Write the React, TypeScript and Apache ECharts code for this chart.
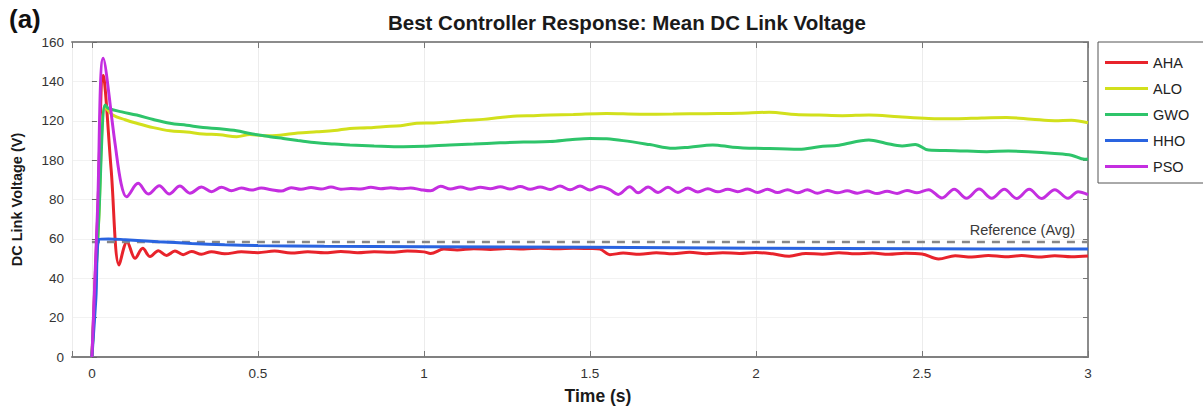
import React, { useEffect, useRef } from "react";
import * as echarts from "echarts";

const SERIES_NAMES = ["AHA", "ALO", "GWO", "HHO", "PSO"];
const SERIES_COLORS = ["#e8232b", "#d2e01c", "#2ec46a", "#2a64e0", "#c42ee0"];
const Y_TICK_LABELS = ["0", "20", "40", "60", "80", "180", "120", "140", "160"];
const X_TICKS = [0, 0.5, 1, 1.5, 2, 2.5, 3];
const REFERENCE_AVG = 58.7;
const REFERENCE_SPAN = [0, 3];

const AHA_T = [0, 0.017, 0.034, 0.058, 0.082, 0.106, 0.13, 0.153, 0.175, 0.2, 0.225, 0.25, 0.275, 0.3, 0.33, 0.36, 0.4, 0.45, 0.5, 0.55, 0.6, 0.65, 0.7, 0.75, 0.8, 0.85, 0.9, 0.95, 1.0, 1.02, 1.06, 1.1, 1.15, 1.2, 1.25, 1.3, 1.35, 1.4, 1.45, 1.5, 1.53, 1.56, 1.6, 1.65, 1.7, 1.75, 1.8, 1.85, 1.9, 1.95, 2.0, 2.05, 2.1, 2.15, 2.2, 2.25, 2.3, 2.35, 2.4, 2.45, 2.5, 2.55, 2.6, 2.65, 2.7, 2.75, 2.8, 2.85, 2.9, 2.95, 3.0];
const AHA_V = [0, 70, 143, 95, 46.7, 58.6, 50.1, 55.2, 51.0, 54.0, 51.6, 53.8, 52.0, 53.6, 52.2, 53.5, 52.4, 53.4, 53.0, 53.8, 52.8, 53.4, 52.9, 53.6, 53.0, 53.5, 53.2, 53.8, 53.4, 52.6, 54.8, 54.4, 55.0, 54.6, 55.1, 54.8, 55.3, 55.0, 55.3, 55.1, 54.8, 52.0, 52.8, 52.2, 53.0, 52.4, 53.2, 52.5, 53.0, 52.6, 53.1, 52.4, 51.2, 52.6, 52.2, 53.0, 52.4, 52.8, 52.2, 52.7, 52.3, 49.8, 51.4, 50.8, 51.6, 50.9, 51.5, 50.8, 51.4, 50.9, 51.3];

const ALO_T = [0, 0.02, 0.04, 0.063, 0.1, 0.135, 0.185, 0.235, 0.285, 0.335, 0.385, 0.436, 0.476, 0.52, 0.566, 0.62, 0.677, 0.73, 0.777, 0.83, 0.877, 0.93, 0.978, 1.03, 1.078, 1.13, 1.178, 1.23, 1.28, 1.33, 1.38, 1.45, 1.55, 1.65, 1.75, 1.85, 1.95, 2.04, 2.12, 2.19, 2.26, 2.34, 2.43, 2.52, 2.6, 2.68, 2.755, 2.83, 2.9, 2.95, 3.0];
const ALO_V = [0, 68, 127, 122.9, 120.5, 118.7, 116.5, 114.9, 114.3, 113.3, 112.9, 111.9, 113.0, 112.4, 112.7, 113.8, 114.4, 115.0, 116.1, 116.4, 117.0, 117.5, 118.7, 118.9, 119.5, 120.2, 120.7, 121.6, 122.4, 122.6, 122.9, 123.2, 123.7, 123.3, 123.4, 123.6, 123.8, 124.3, 123.2, 122.9, 122.6, 122.9, 122.0, 121.2, 121.0, 121.4, 121.6, 120.8, 120.0, 120.3, 119.0];

const GWO_T = [0, 0.02, 0.04, 0.05, 0.09, 0.135, 0.185, 0.235, 0.285, 0.335, 0.385, 0.436, 0.476, 0.536, 0.576, 0.62, 0.677, 0.73, 0.777, 0.85, 0.938, 1.0, 1.078, 1.15, 1.229, 1.3, 1.38, 1.44, 1.5, 1.55, 1.6, 1.68, 1.75, 1.8, 1.87, 1.93, 2.0, 2.07, 2.13, 2.19, 2.25, 2.34, 2.39, 2.44, 2.48, 2.52, 2.6, 2.695, 2.76, 2.82, 2.9, 2.95, 2.99, 3.0];
const GWO_V = [0, 68, 128, 126.3, 124.5, 122.9, 120.6, 118.7, 117.7, 116.6, 115.9, 114.9, 113.5, 111.9, 111.0, 110.0, 108.8, 108.2, 107.7, 107.2, 106.8, 107.0, 107.7, 108.2, 108.8, 109.2, 109.4, 110.3, 111.0, 110.8, 109.9, 107.9, 106.0, 106.6, 107.7, 106.6, 106.0, 105.8, 105.5, 106.8, 107.6, 110.2, 108.6, 107.2, 108.0, 105.1, 104.8, 104.3, 104.6, 104.3, 103.4, 102.5, 100.4, 100.6];

const HHO_T = [0, 0.012, 0.022, 0.05, 0.1, 0.2, 0.3, 0.4, 0.5, 0.7, 1.0, 1.5, 2.0, 2.5, 3.0];
const HHO_V = [0, 30, 59.8, 60.0, 59.6, 58.6, 57.7, 57.0, 56.6, 56.2, 56.0, 55.7, 55.3, 55.0, 54.8];

const PSO_T = [0, 0.017, 0.034, 0.07, 0.088, 0.104, 0.139, 0.17, 0.203, 0.233, 0.265, 0.295, 0.33, 0.36, 0.39, 0.42, 0.45, 0.48, 0.51, 0.54, 0.57, 0.6, 0.63, 0.66, 0.69, 0.72, 0.75, 0.78, 0.81, 0.84, 0.87, 0.9, 0.93, 0.96, 0.99, 1.02, 1.05, 1.08, 1.11, 1.14, 1.17, 1.2, 1.23, 1.26, 1.29, 1.32, 1.35, 1.38, 1.41, 1.44, 1.47, 1.5, 1.53, 1.56, 1.585, 1.62, 1.645, 1.675, 1.705, 1.735, 1.765, 1.795, 1.825, 1.855, 1.885, 1.915, 1.945, 1.975, 2.005, 2.035, 2.065, 2.095, 2.125, 2.155, 2.185, 2.215, 2.245, 2.275, 2.305, 2.335, 2.365, 2.395, 2.425, 2.455, 2.485, 2.52, 2.56, 2.597, 2.634, 2.672, 2.71, 2.748, 2.785, 2.823, 2.86, 2.9, 2.94, 2.97, 3.0];
const PSO_V = [0, 75, 151.7, 108, 88, 81.4, 88.2, 82.8, 87.0, 82.8, 86.8, 83.2, 86.3, 84.0, 86.2, 84.5, 85.9, 84.8, 85.8, 85.0, 84.3, 86.0, 85.2, 86.1, 85.3, 86.3, 85.2, 85.6, 85.3, 86.2, 85.5, 86.0, 85.4, 85.9, 85.0, 84.4, 86.7, 85.3, 86.4, 85.2, 86.2, 85.4, 86.5, 85.3, 86.6, 85.2, 86.4, 85.1, 86.8, 84.9, 86.8, 84.8, 86.6, 85.0, 82.6, 86.5, 83.4, 86.4, 83.5, 86.2, 83.6, 85.8, 83.8, 85.4, 83.9, 85.2, 84.0, 85.3, 83.6, 85.2, 83.5, 85.0, 83.4, 84.9, 83.2, 84.6, 83.4, 84.4, 83.2, 84.3, 83.0, 84.2, 83.1, 84.6, 83.4, 85.0, 80.8, 85.2, 80.6, 85.3, 80.6, 85.2, 80.5, 85.2, 80.5, 85.0, 80.6, 84.0, 82.5];

const SERIES_T = [AHA_T, ALO_T, GWO_T, HHO_T, PSO_T];
const SERIES_V = [AHA_V, ALO_V, GWO_V, HHO_V, PSO_V];

const FONT = "'Liberation Sans', Arial, Helvetica, sans-serif";

export default function App() {
  const ref = useRef<HTMLDivElement>(null);
  useEffect(() => {
    document.body.style.margin = "0";
    if (!ref.current) return;
    const chart = echarts.init(ref.current, null, { renderer: "svg" });
    const lineSeries: any[] = SERIES_NAMES.map((name, i) => ({
      name,
      type: "line",
      xAxisIndex: 0,
      yAxisIndex: 0,
      showSymbol: false,
      symbol: "none",
      smooth: 0.35,
      color: SERIES_COLORS[i],
      lineStyle: { width: 3, color: SERIES_COLORS[i] },
      data: SERIES_T[i].map((t, k) => [t, SERIES_V[i][k]]),
      z: 3 + i,
    }));
    lineSeries.push({
      name: "Reference (Avg)",
      type: "line",
      showSymbol: false,
      symbol: "none",
      lineStyle: { width: 0, opacity: 0 },
      z: 10,
      data: REFERENCE_SPAN.map((t) => [t, REFERENCE_AVG]),
      markLine: {
        silent: true,
        symbol: ["none", "none"],
        lineStyle: { width: 2.4, color: "#888888", type: [8, 7] },
        label: {
          show: true,
          position: "insideEndTop",
          formatter: "Reference (Avg)",
          fontSize: 14.5,
          fontFamily: FONT,
          color: "#3a3a3a",
          distance: [13, 4],
        },
        data: [
          [
            { coord: [REFERENCE_SPAN[0], REFERENCE_AVG] },
            { coord: [REFERENCE_SPAN[1], REFERENCE_AVG] },
          ],
        ],
      },
    });
    const option: any = {
      animation: false,
      backgroundColor: "#ffffff",
      textStyle: { fontFamily: FONT },
      grid: { left: 72, right: 115, top: 42, bottom: 50, containLabel: false, outerBoundsMode: "none" },
      graphic: [
        {
          type: "text",
          left: 9,
          top: 6,
          style: { text: "(a)", font: `bold 26px ${FONT}`, fill: "#111" },
        },
        {
          type: "text",
          x: 627,
          y: 22,
          style: {
            text: "Best Controller Response: Mean DC Link Voltage",
            font: `bold 20.5px ${FONT}`,
            fill: "#1a1a1a",
            align: "center",
            verticalAlign: "middle",
          },
        },
      ],
      legend: {
        data: SERIES_NAMES,
        orient: "vertical",
        left: 1098,
        top: 42,
        itemWidth: 43,
        itemHeight: 14,
        itemGap: 11,
        padding: [13, 80, 9, 7],
        borderColor: "#555",
        borderWidth: 1,
        backgroundColor: "#fff",
        textStyle: { fontSize: 14.5, color: "#222", fontFamily: FONT },
        icon: "path://M0,5.5 L43,5.5 L43,8.5 L0,8.5 Z",
      },
      xAxis: [
        {
          type: "value",
          min: -0.06,
          max: 3,
          splitNumber: 6,
          name: "Time (s)",
          nameLocation: "middle",
          nameGap: 30,
          nameTextStyle: {
            fontSize: 17.5,
            fontWeight: "bold",
            color: "#1a1a1a",
            fontFamily: FONT,
            padding: [0, 0, 0, 36],
          },
          axisLine: { show: true, onZero: false, lineStyle: { color: "#808080", width: 2 } },
          axisTick: { show: true, inside: true, length: 6, lineStyle: { color: "#777", width: 1 } },
          axisLabel: {
            fontSize: 13.5,
            color: "#333",
            margin: 9,
            fontFamily: FONT,
            formatter: (v: number) => (X_TICKS.some((t) => Math.abs(t - v) < 1e-6) ? String(v) : ""),
          },
          splitLine: { show: true, lineStyle: { color: "#ececec", width: 1 } },
        },
        {
          type: "value",
          position: "top",
          min: -0.06,
          max: 3,
          splitNumber: 6,
          axisLine: { show: true, onZero: false, lineStyle: { color: "#8c8c8c", width: 2 } },
          axisTick: { show: true, inside: true, length: 6, lineStyle: { color: "#777", width: 1 } },
          axisLabel: { show: false },
          splitLine: { show: false },
        },
      ],
      yAxis: [
        {
          type: "value",
          min: 0,
          max: 160,
          interval: 20,
          name: "DC Link Voltage (V)",
          nameLocation: "middle",
          nameGap: 48,
          nameTextStyle: {
            fontSize: 14.5,
            fontWeight: "bold",
            color: "#1a1a1a",
            fontFamily: FONT,
            padding: [0, 0, 0, 0],
          },
          axisLine: { show: false },
          axisTick: { show: true, inside: true, length: 5, lineStyle: { color: "#666", width: 1 } },
          axisLabel: {
            fontSize: 13.5,
            color: "#333",
            margin: 8,
            fontFamily: FONT,
            formatter: (_v: number, idx: number) => Y_TICK_LABELS[idx] ?? "",
          },
          splitLine: { show: true, lineStyle: { color: "#f2f2f2", width: 1 } },
        },
        {
          type: "value",
          position: "right",
          min: 0,
          max: 160,
          interval: 20,
          axisLine: { show: true, onZero: false, lineStyle: { color: "#8c8c8c", width: 2 } },
          axisTick: { show: true, inside: true, length: 5, lineStyle: { color: "#777", width: 1 } },
          axisLabel: { show: false },
          splitLine: { show: false },
        },
      ],
      series: lineSeries,
    };
    chart.setOption(option);
    return () => chart.dispose();
  }, []);
  return <div ref={ref} style={{ width: 1203, height: 407 }} />;
}
